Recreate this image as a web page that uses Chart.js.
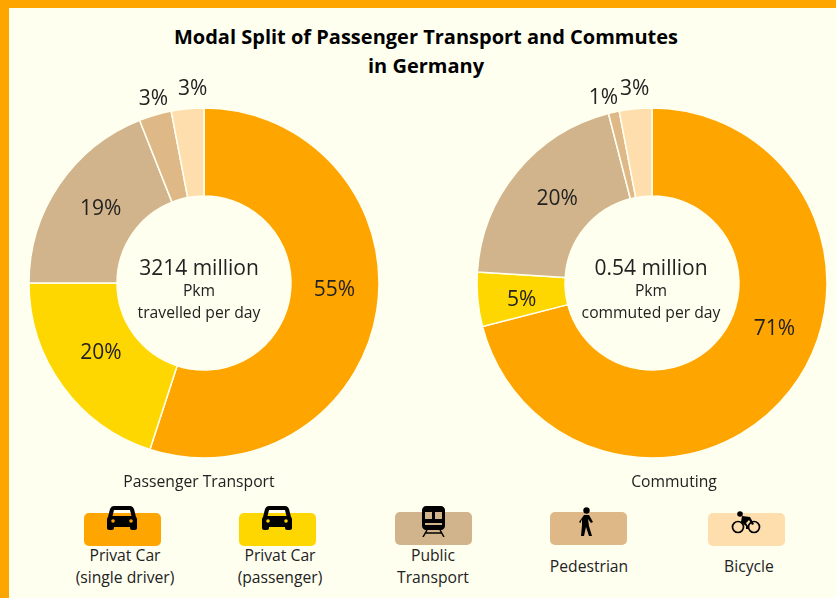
<!DOCTYPE html>
<html>
<head>
<meta charset="utf-8">
<title>Modal Split</title>
<script src="https://cdn.jsdelivr.net/npm/chart.js@4/dist/chart.umd.min.js"></script>
<style>
  html, body { margin: 0; padding: 0; width: 836px; height: 598px; overflow: hidden; background: #FFFFF0; }
  body { position: relative; font-family: "Open Sans", "Noto Sans", sans-serif; color: #222; }
  .frame-top { position: absolute; left: 0; top: 0; width: 836px; height: 8px; background: #FFA500; }
  .frame-left { position: absolute; left: 0; top: 0; width: 9px; height: 598px; background: #FFA500; }
  h1 { position: absolute; left: 26px; top: 22px; width: 800px; margin: 0; text-align: center; font-size: 20px; line-height: 29px; font-weight: 700; color: #000; }
  canvas { position: absolute; }
  .sub { position: absolute; top: 471px; width: 240px; text-align: center; font-size: 15.7px; line-height: 20px; }
  .key { position: absolute; width: 77px; height: 33px; border-radius: 5px; }
  .key-label { position: absolute; width: 160px; text-align: center; font-size: 15.7px; line-height: 22px; }
  svg { position: absolute; }
</style>
</head>
<body>
<div class="frame-top"></div>
<div class="frame-left"></div>
<h1>Modal Split of Passenger Transport and Commutes<br>in Germany</h1>
<canvas id="transport" style="left:4px;top:73px;width:400px;height:420px"></canvas>
<canvas id="commute" style="left:468px;top:73px;width:368px;height:420px"></canvas>
<div class="sub" style="left:79px">Passenger Transport</div>
<div class="sub" style="left:554px">Commuting</div>
<div id="legend"></div>

<svg style="left:107px;top:505px" width="30" height="28" viewBox="0 0 30 28"><path id="car" d="M7 1h16c2 0 3 1 4 3l2 8c1 1 1 2 1 3v8c0 1-1 2-2 2h-3c-1 0-2-1-2-2v-1H7v1c0 1-1 2-2 2H2c-1 0-2-1-2-2v-8c0-1 0-2 1-3l2-8c1-2 2-3 4-3zM7 5l-1.500 6h19L23 5z" fill-rule="evenodd"/><circle cx="6" cy="16" r="1.800" fill="#FFA500"/><circle cx="24" cy="16" r="1.800" fill="#FFA500"/></svg>
<svg style="left:262px;top:505px" width="30" height="28" viewBox="0 0 30 28"><use href="#car"/><circle cx="6" cy="16" r="1.800" fill="#FFD700"/><circle cx="24" cy="16" r="1.800" fill="#FFD700"/></svg>
<svg style="left:422px;top:506px" width="23" height="31" viewBox="0 0 23 31"><path fill-rule="evenodd" d="M4 0h15c2 0 4 2 4 4v16c0 2-2 4-4 4H4c-2 0-4-2-4-4V4c0-2 2-4 4-4zM3 6v7h7V6zM13 6v7h7V6zM3 17v2h17v-2z"/><path d="M5 24L1 31M18 24l4 7M3 27h17" stroke="#000" stroke-width="1.500" fill="none"/></svg>
<svg style="left:579px;top:507px" width="15" height="30" viewBox="0 0 15 30"><circle cx="7.500" cy="3.500" r="3.200"/><path d="M5 8h5l4 7-2 1-3-4 1 7 3 10h-3l-3-9-2 9H2l1-11V12l-1.500 4L0 15z"/></svg>
<svg style="left:731px;top:511px" width="30" height="23" viewBox="0 0 30 23"><circle cx="9" cy="3" r="2.800"/><path d="M11 5l8 1 4 7-2 1-3-5-3 3 2 3v3h-2v-3l-5-4z"/><circle cx="7" cy="16" r="5.500" fill="none" stroke="#000" stroke-width="1.700"/><circle cx="23" cy="16" r="5.500" fill="none" stroke="#000" stroke-width="1.700"/></svg>

<script>
// modal split, values (percent)
const modes = ["Privat Car (single driver)", "Privat Car (passenger)", "Public Transport", "Pedestrian", "Bicycle"];
const modeLines = [["Privat Car", "(single driver)"], ["Privat Car", "(passenger)"], ["Public", "Transport"], ["Pedestrian"], ["Bicycle"]];
const transportShare = [55, 20, 19, 3, 3];
const commuteShare = [71, 5, 20, 1, 3];
const transportCentre = ["3214 million", "Pkm", "travelled per day"];
const commuteCentre = ["0.54 million", "Pkm", "commuted per day"];
const sliceColours = ["#FFA500", "#FFD700", "#D2B48C", "#DEB887", "#FFDEAD"];

// label nudges from the middle of the ring, the Excel original had them moved by hand
const transportNudge = [[1, -13], [3, -7], [5, 0], [-14, -58], [1, -64]];
const commuteNudge = [[19, -34], [0, 5], [6, 0], [-20, -57], [-5, -64]];

// legend boxes + captions
const legendLayout = [
  { x: 84, y: 513, shift: 3 },
  { x: 239, y: 513, shift: 3 },
  { x: 395, y: 512, shift: 0 },
  { x: 550, y: 512, shift: 1 },
  { x: 708, y: 513, shift: 3 }
];
const legendEl = document.getElementById("legend");
legendLayout.forEach(function (b, i) {
  const box = document.createElement("div");
  box.className = "key";
  box.style.cssText = "left:" + b.x + "px;top:" + b.y + "px;background:" + sliceColours[i];
  legendEl.appendChild(box);
  const cap = document.createElement("div");
  cap.className = "key-label";
  cap.style.left = (b.x + 38 - 80 + b.shift) + "px";
  cap.style.top = (modeLines[i].length > 1 ? 544 : 555) + "px";
  cap.innerHTML = modeLines[i].join("<br>");
  legendEl.appendChild(cap);
});

// percent labels and the text in the hole
const ringText = {
  id: "ringText",
  afterDatasetsDraw(chart, args, opts) {
    const ctx = chart.ctx;
    const arcs = chart.getDatasetMeta(0).data;
    ctx.save();
    ctx.textAlign = "center";
    ctx.textBaseline = "middle";
    ctx.fillStyle = "#222";
    ctx.font = "21px 'Open Sans'";
    arcs.forEach(function (arc, i) {
      const p = arc.getCenterPoint();
      ctx.fillText(chart.data.datasets[0].data[i] + "%", p.x + opts.nudge[i][0], p.y + opts.nudge[i][1]);
    });
    const cx = arcs[0].x + opts.shift, cy = arcs[0].y;
    ctx.fillText(opts.centre[0], cx, cy - 14);
    ctx.font = "15.7px 'Open Sans'";
    ctx.fillText(opts.centre[1], cx, cy + 9);
    ctx.fillText(opts.centre[2], cx, cy + 31);
    ctx.restore();
  }
};

function donut(id, values, centre, nudge, shift) {
  new Chart(document.getElementById(id).getContext("2d"), {
    type: "doughnut",
    data: {
      labels: modes,
      datasets: [{
        data: values,
        backgroundColor: sliceColours,
        borderColor: "#FFFFF0",
        borderWidth: 1.5
      }]
    },
    options: {
      responsive: false,
      animation: false,
      radius: 175,
      cutout: "49.7%",
      plugins: {
        legend: { display: false },
        tooltip: { enabled: false },
        ringText: { centre: centre, nudge: nudge, shift: shift }
      }
    },
    plugins: [ringText]
  });
}

const sizeUp = [["transport", 400], ["commute", 368]];
sizeUp.forEach(function (s) {
  const c = document.getElementById(s[0]);
  c.width = s[1];
  c.height = 420;
});
donut("transport", transportShare, transportCentre, transportNudge, -5);
donut("commute", commuteShare, commuteCentre, commuteNudge, -1);
</script>
</body>
</html>
